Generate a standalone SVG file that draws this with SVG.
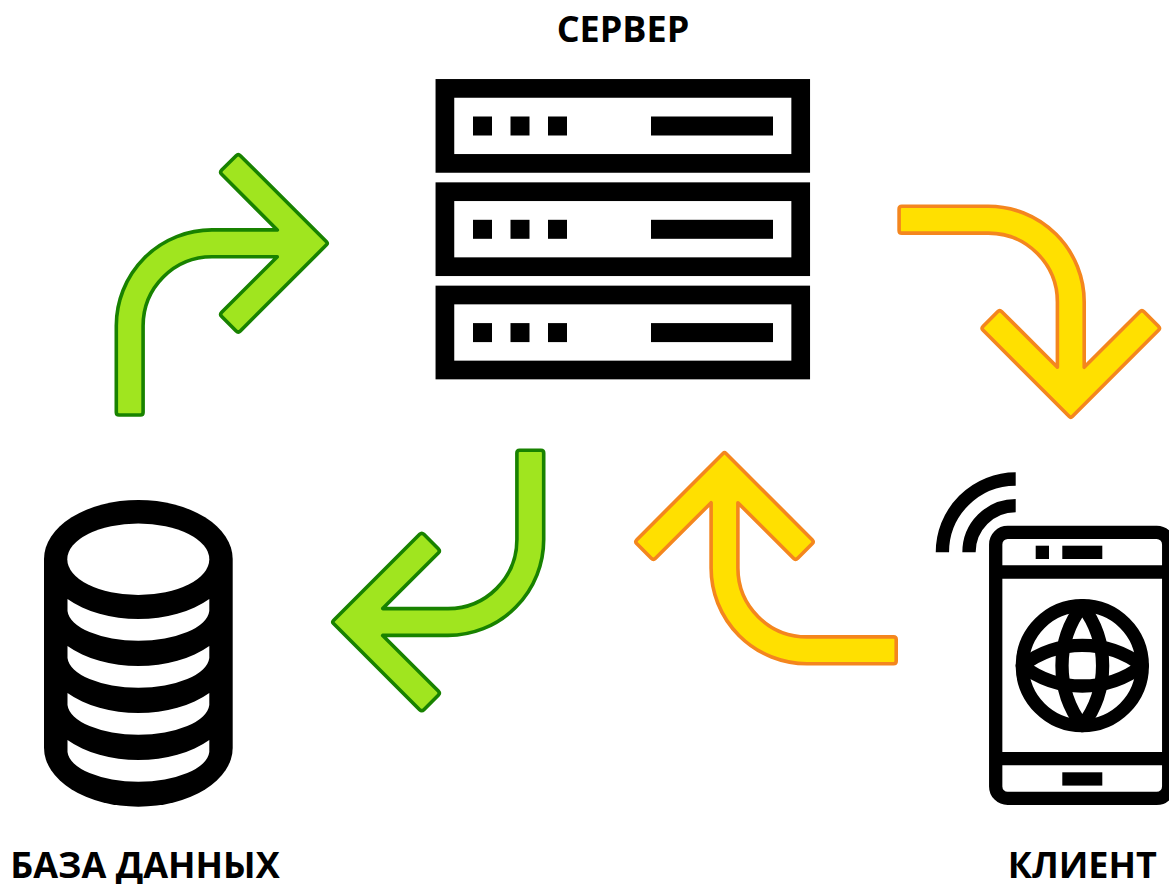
<svg xmlns="http://www.w3.org/2000/svg" xmlns:xlink="http://www.w3.org/1999/xlink" width="1169" height="884" viewBox="0 0 1169 884">
<style>
.lbl{font-family:"Open Sans","Noto Sans","Liberation Sans",sans-serif;font-weight:700;font-size:36px;fill:#000}
.ln{fill:none;stroke:#000;stroke-width:13.3;stroke-linejoin:round}
.rack{fill:#fff;stroke:#000;stroke-width:18.7}
.g{fill:#a0e51f;stroke:#188200}
.y{fill:#ffe000;stroke:#f4861e}
.arrow{stroke-width:3.6;stroke-linejoin:round}
</style>
<defs>
<path id="arr" d="M-3.5,-1.5 L-89.65,-87.65 Q-91.75,-89.75 -93.85,-87.65 L-108.3,-73.2 Q-110.4,-71.1 -108.3,-69 L-52.7,-13.4 L-118,-13.4 A95.7,95.9 0 0 0 -213.7,82.5 L-213.7,169 Q-213.7,171.7 -211,171.7 L-189.6,171.7 Q-186.9,171.7 -186.9,169 L-186.9,82.5 A68.9,69.1 0 0 1 -118,13.4 L-52.7,13.4 L-108.3,69 Q-110.4,71.1 -108.3,73.2 L-93.85,87.65 Q-91.75,89.75 -89.65,87.65 L-3.5,1.5 Q-2,0 -3.5,-1.5 Z"/>
<g id="server-unit">
<rect class="rack" x="444.9" y="88.4" width="355.8" height="75"/>
<rect x="473" y="116.5" width="19" height="19"/>
<rect x="510.5" y="116.5" width="19" height="19"/>
<rect x="548" y="116.5" width="19" height="19"/>
<rect x="651" y="116.5" width="122" height="19"/>
</g>
<path id="db-band" fill="#fff" d="M67.5,599 A94.3,59 0 0 0 209.3,599 V611 A71,31.3 0 0 1 67.5,611 Z"/>
</defs>
<rect width="1169" height="884" fill="#fff"/>
<g id="server">
<use xlink:href="#server-unit" href="#server-unit"/>
<use xlink:href="#server-unit" href="#server-unit" y="103.3"/>
<use xlink:href="#server-unit" href="#server-unit" y="206.6"/>
<text class="lbl" x="623" y="42" text-anchor="middle">СЕРВЕР</text>
</g>
<g id="database">
<path d="M44,559 A94.3,59 0 0 1 232.7,559 V747.7 A94.3,59 0 0 1 44,747.7 Z"/>
<ellipse cx="138.3" cy="559.2" rx="71" ry="35.8" fill="#fff"/>
<use xlink:href="#db-band" href="#db-band"/>
<use xlink:href="#db-band" href="#db-band" y="47"/>
<use xlink:href="#db-band" href="#db-band" y="94"/>
<use xlink:href="#db-band" href="#db-band" y="141"/>
<text class="lbl" x="145" y="877.5" text-anchor="middle">БАЗА ДАННЫХ</text>
</g>
<g id="client">
<rect class="ln" x="995.7" y="532.4" width="173" height="266" rx="12"/>
<path class="ln" d="M996,572 H1169 M996,758.7 H1169"/>
<rect x="1035.7" y="545.7" width="13.3" height="13.3"/>
<rect x="1062.3" y="545.7" width="40" height="13.3"/>
<rect x="1062.3" y="772.3" width="40" height="13.3"/>
<circle class="ln" cx="1082.3" cy="665.7" r="60"/>
<path class="ln" d="M1082.3,605.7 A98.8,98.8 0 0 0 1082.3,725.7 A98.8,98.8 0 0 0 1082.3,605.7 Z"/>
<path class="ln" d="M1022.3,665.7 A98.8,98.8 0 0 0 1142.3,665.7 A98.8,98.8 0 0 0 1022.3,665.7 Z"/>
<path class="ln" d="M942.4,552.3 A73.3,73.3 0 0 1 1015.7,479 M969,552.3 A46.7,46.7 0 0 1 1015.7,505.6"/>
<text class="lbl" x="1082.3" y="877.5" text-anchor="middle">КЛИЕНТ</text>
</g>
<g id="connectors">
<use xlink:href="#arr" href="#arr" class="arrow g" transform="translate(330,243.3)"/>
<use xlink:href="#arr" href="#arr" class="arrow y" transform="translate(1070.8,420) rotate(90)"/>
<use xlink:href="#arr" href="#arr" class="arrow g" transform="translate(330,622) rotate(180)"/>
<use xlink:href="#arr" href="#arr" class="arrow y" transform="translate(724.5,450) rotate(270)"/>
</g>
</svg>
